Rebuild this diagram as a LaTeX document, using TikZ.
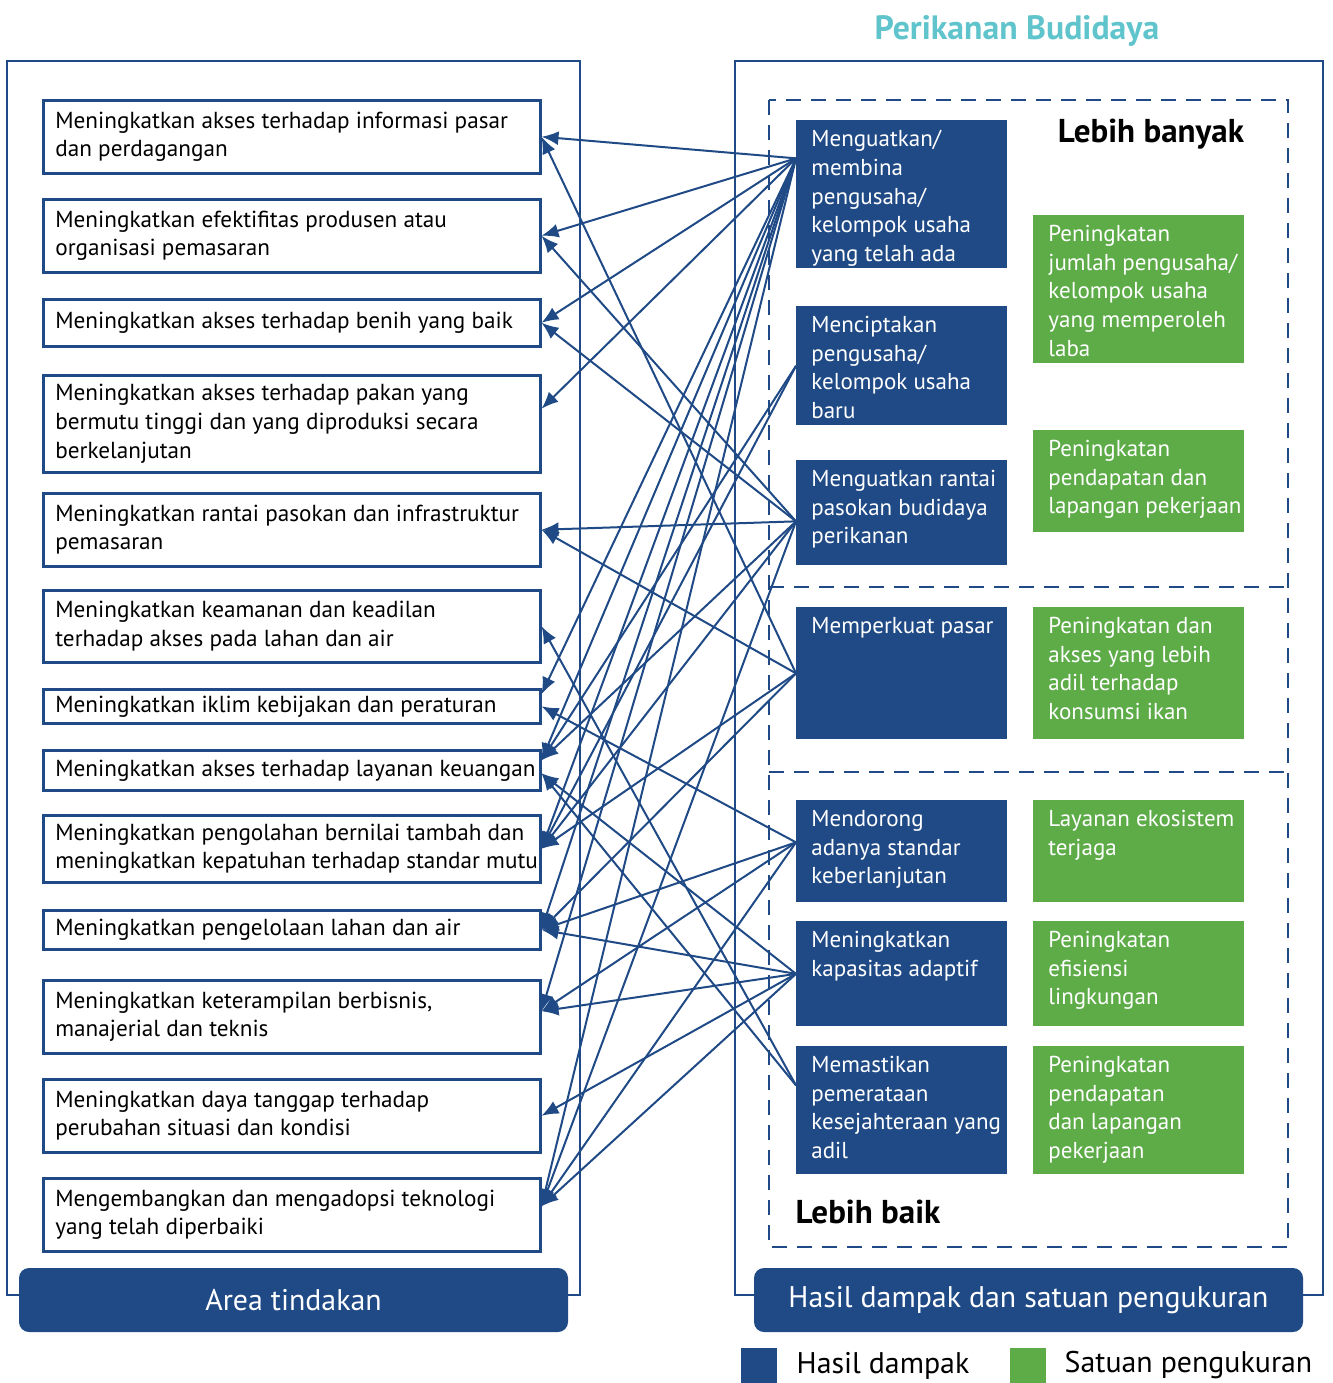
\documentclass[tikz,border=0pt]{standalone}
\usepackage{fontspec}
\setmainfont{PT Sans}
\usepackage{xcolor}
\usepackage{tikz}
\usetikzlibrary{arrows.meta,positioning}
\definecolor{deepblue}{RGB}{31,74,134}
\definecolor{leafgreen}{RGB}{93,172,72}
\definecolor{titleteal}{RGB}{96,196,204}
\newlength{\pxl}
\setlength{\pxl}{0.2mm}

\begin{document}
\begin{tikzpicture}[
    x=0.2mm, y=-0.2mm,
    actbox/.style={
      draw=deepblue, line width=2.5\pxl, anchor=north west,
      minimum width=497\pxl, inner sep=0pt
    },
    acttext/.style={
      align=left, inner sep=0pt,
      font=\fontsize{13.2pt}{16.3pt}\selectfont
    },
    outbox/.style={
      fill=deepblue, anchor=north west, minimum width=211\pxl, inner sep=0pt
    },
    unitbox/.style={outbox, fill=leafgreen},
    outtext/.style={acttext, text=white, font=\fontsize{13.1pt}{16.3pt}\selectfont},
    panel/.style={draw=deepblue, line width=2.5\pxl},
    bar/.style={
      fill=deepblue, rounded corners=10\pxl, text=white,
      minimum width=549\pxl, minimum height=64\pxl,
      font=\fontsize{17pt}{20pt}\selectfont
    },
    zone/.style={draw=deepblue, line width=2\pxl, dash pattern=on 3mm off 2mm},
    link/.style={-{Latex[length=3.4mm,width=2.8mm]}, line width=2\pxl, draw=deepblue},
    level/.style={font=\fontsize{18.8pt}{22pt}\selectfont\bfseries},
    legsq/.style={minimum size=36\pxl, inner sep=0pt},
    legtext/.style={font=\fontsize{17pt}{20pt}\selectfont, inner sep=0pt}
  ]
  \useasboundingbox (0,0) rectangle (1333,1383);

  % frames
  \draw[panel] (7,61) rectangle (580,1295);
  \draw[panel] (735,61) rectangle (1323,1295);
  \draw[zone] (769,100) rectangle (1288,1247);
  \draw[zone] (769,587) -- (1288,587);
  \draw[zone] (769,772) -- (1288,772);

  \node[font=\fontsize{19.2pt}{22pt}\selectfont\bfseries, text=titleteal] (title) at (1017,31) {Perikanan Budidaya};

  % action areas
  \node[actbox, minimum height=73\pxl] (l1)  at (42,99)   {};
  \node[actbox, minimum height=73\pxl] (l2)  at (42,198)  {};
  \node[actbox, minimum height=47\pxl] (l3)  at (42,298)  {};
  \node[actbox, minimum height=97\pxl] (l4)  at (42,374)  {};
  \node[actbox, minimum height=73\pxl] (l5)  at (42,492)  {};
  \node[actbox, minimum height=72\pxl] (l6)  at (42,589)  {};
  \node[actbox, minimum height=34\pxl] (l7)  at (42,688)  {};
  \node[actbox, minimum height=40\pxl] (l8)  at (42,749)  {};
  \node[actbox, minimum height=67\pxl] (l9)  at (42,814)  {};
  \node[actbox, minimum height=39\pxl] (l10) at (42,909)  {};
  \node[actbox, minimum height=73\pxl] (l11) at (42,979)  {};
  \node[actbox, minimum height=73\pxl] (l12) at (42,1078) {};
  \node[actbox, minimum height=73\pxl] (l13) at (42,1177) {};

  \node[acttext, right=13\pxl of l1.west]  (l1t)  {Meningkatkan akses terhadap informasi pasar\\dan perdagangan};
  \node[acttext, right=13\pxl of l2.west]  (l2t)  {Meningkatkan efektifitas produsen atau\\organisasi pemasaran};
  \node[acttext, right=13\pxl of l3.west]  (l3t)  {Meningkatkan akses terhadap benih yang baik};
  \node[acttext, right=13\pxl of l4.west]  (l4t)  {Meningkatkan akses terhadap pakan yang\\bermutu tinggi dan yang diproduksi secara\\berkelanjutan};
  \node[acttext, right=13\pxl of l5.west]  (l5t)  {Meningkatkan rantai pasokan dan infrastruktur\\pemasaran};
  \node[acttext, right=13\pxl of l6.west]  (l6t)  {Meningkatkan keamanan dan keadilan\\terhadap akses pada lahan dan air};
  \node[acttext, right=13\pxl of l7.west]  (l7t)  {Meningkatkan iklim kebijakan dan peraturan};
  \node[acttext, right=13\pxl of l8.west]  (l8t)  {Meningkatkan akses terhadap layanan keuangan};
  \node[acttext, right=13\pxl of l9.west]  (l9t)  {Meningkatkan pengolahan bernilai tambah dan\\meningkatkan kepatuhan terhadap standar mutu};
  \node[acttext, right=13\pxl of l10.west] (l10t) {Meningkatkan pengelolaan lahan dan air};
  \node[acttext, right=13\pxl of l11.west] (l11t) {Meningkatkan keterampilan berbisnis,\\manajerial dan teknis};
  \node[acttext, right=13\pxl of l12.west] (l12t) {Meningkatkan daya tanggap terhadap\\perubahan situasi dan kondisi};
  \node[acttext, right=13\pxl of l13.west] (l13t) {Mengembangkan dan mengadopsi teknologi\\yang telah diperbaiki};

  % outcomes
  \node[outbox, minimum height=148\pxl] (b1) at (796,120)  {};
  \node[outbox, minimum height=119\pxl] (b2) at (796,306)  {};
  \node[outbox, minimum height=105\pxl] (b3) at (796,460)  {};
  \node[outbox, minimum height=132\pxl] (b4) at (796,607)  {};
  \node[outbox, minimum height=102\pxl] (b5) at (796,800)  {};
  \node[outbox, minimum height=105\pxl] (b6) at (796,921)  {};
  \node[outbox, minimum height=128\pxl] (b7) at (796,1046) {};

  \node[outtext, below right=10\pxl and 15\pxl of b1.north west] (b1t) {Menguatkan/\\membina\\pengusaha/\\kelompok usaha\\yang telah ada};
  \node[outtext, below right=10\pxl and 15\pxl of b2.north west] (b2t) {Menciptakan\\pengusaha/\\kelompok usaha\\baru};
  \node[outtext, below right=10\pxl and 15\pxl of b3.north west] (b3t) {Menguatkan rantai\\pasokan budidaya\\perikanan};
  \node[outtext, below right=10\pxl and 15\pxl of b4.north west] (b4t) {Memperkuat pasar};
  \node[outtext, below right=10\pxl and 15\pxl of b5.north west] (b5t) {Mendorong\\adanya standar\\keberlanjutan};
  \node[outtext, below right=10\pxl and 15\pxl of b6.north west] (b6t) {Meningkatkan\\kapasitas adaptif};
  \node[outtext, below right=10\pxl and 15\pxl of b7.north west] (b7t) {Memastikan\\pemerataan\\kesejahteraan yang\\adil};

  % measurement units
  \node[unitbox, minimum height=148\pxl] (g1) at (1033,215)  {};
  \node[unitbox, minimum height=102\pxl] (g2) at (1033,430)  {};
  \node[unitbox, minimum height=132\pxl] (g3) at (1033,607)  {};
  \node[unitbox, minimum height=102\pxl] (g4) at (1033,800)  {};
  \node[unitbox, minimum height=105\pxl] (g5) at (1033,921)  {};
  \node[unitbox, minimum height=128\pxl] (g6) at (1033,1046) {};

  \node[outtext, below right=10\pxl and 15\pxl of g1.north west] (g1t) {Peningkatan\\jumlah pengusaha/\\kelompok usaha\\yang memperoleh\\laba};
  \node[outtext, below right=10\pxl and 15\pxl of g2.north west] (g2t) {Peningkatan\\pendapatan dan\\lapangan pekerjaan};
  \node[outtext, below right=10\pxl and 15\pxl of g3.north west] (g3t) {Peningkatan dan\\akses yang lebih\\adil terhadap\\konsumsi ikan};
  \node[outtext, below right=10\pxl and 15\pxl of g4.north west] (g4t) {Layanan ekosistem\\terjaga};
  \node[outtext, below right=10\pxl and 15\pxl of g5.north west] (g5t) {Peningkatan\\efisiensi\\lingkungan};
  \node[outtext, below right=10\pxl and 15\pxl of g6.north west] (g6t) {Peningkatan\\pendapatan\\dan lapangan\\pekerjaan};

  \node[level] (more)   at (1151,134)  {Lebih banyak};
  \node[level] (better) at (868,1212)  {Lebih baik};

  % bottom bars
  \node[bar] (areabar) at (293.5,1300) {Area tindakan};
  \node[bar] (outbar)  at (1028.5,1300) {Hasil dampak dan satuan pengukuran};

  % legend
  \node[legsq, fill=deepblue]  (legb) at (759,1365.5) {};
  \node[legtext, right=19\pxl of legb] (legbt) {Hasil dampak};
  \node[legsq, fill=leafgreen] (legg) at (1028,1365.5) {};
  \node[legtext, right=18\pxl of legg] (leggt) {Satuan pengukuran};

  % link ends
  \coordinate (s1) at ([yshift=7.2mm]b1.west);
  \coordinate (s2) at (b2.west);
  \coordinate (s3) at ([yshift=-1.7mm]b3.west);
  \coordinate (s4) at (b4.west);
  \coordinate (s5) at ([yshift=1.8mm]b5.west);
  \coordinate (s6) at (b6.west);
  \coordinate (s7) at ([yshift=5mm]b7.west);

  \draw[link] (s1) -- (l1.east);
  \draw[link] (s1) -- (l2.east);
  \draw[link] (s1) -- (l3.east);
  \draw[link] (s1) -- ([yshift=3mm]l4.east);
  \draw[link] (s1) -- ([yshift=2.4mm]l7.east);
  \draw[link] (s1) -- ([yshift=2mm]l8.east);
  \draw[link] (s1) -- (l9.east);
  \draw[link] (s1) -- (l10.east);
  \draw[link] (s1) -- ([yshift=1.1mm]l11.east);
  \draw[link] (s1) -- ([yshift=1.7mm]l13.east);

  \draw[link] (s2) -- ([yshift=2mm]l8.east);
  \draw[link] (s2) -- (l9.east);

  \draw[link] (s3) -- (l2.east);
  \draw[link] (s3) -- (l3.east);
  \draw[link] (s3) -- (l5.east);
  \draw[link] (s3) -- ([yshift=2mm]l8.east);
  \draw[link] (s3) -- (l9.east);
  \draw[link] (s3) -- ([yshift=1.7mm]l13.east);

  \draw[link] (s4) -- (l1.east);
  \draw[link] (s4) -- (l5.east);
  \draw[link] (s4) -- (l9.east);
  \draw[link] (s4) -- (l10.east);

  \draw[link] (s5) -- (l7.east);
  \draw[link] (s5) -- (l10.east);
  \draw[link] (s5) -- ([yshift=1.1mm]l11.east);
  \draw[link] (s5) -- ([yshift=1.7mm]l13.east);

  \draw[link] (s6) -- ([yshift=-0.6mm]l8.east);
  \draw[link] (s6) -- (l10.east);
  \draw[link] (s6) -- ([yshift=1.1mm]l11.east);
  \draw[link] (s6) -- (l12.east);
  \draw[link] (s6) -- ([yshift=1.7mm]l13.east);

  \draw[link] (s7) -- (l6.east);
  \draw[link] (s7) -- ([yshift=-0.6mm]l8.east);
\end{tikzpicture}
\end{document}
